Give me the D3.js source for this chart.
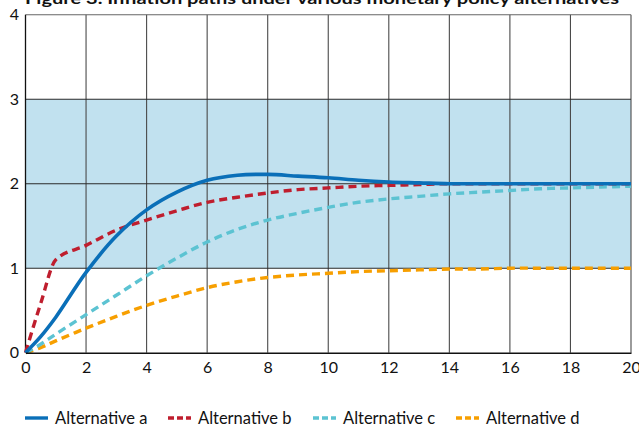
<!DOCTYPE html>
<html>
<head>
<meta charset="utf-8">
<script src="https://cdn.jsdelivr.net/npm/d3@7"></script>
<style>
  html, body { margin: 0; padding: 0; background: #fff; overflow: hidden; }
  svg { display: block; }
  text { font-family: Lato, "Noto Sans", sans-serif; fill: #111; }
</style>
</head>
<body>
<svg id="chart" width="639" height="430"></svg>
<script>
// ---- data ----
const title = "Figure 3. Inflation paths under various monetary policy alternatives";
const periods = [0, 0.5, 1, 2, 3, 4, 5, 6, 7, 8, 9, 10, 11, 12, 13, 14, 15, 16, 17, 18, 19, 20];
const altA = [0, 0.19, 0.42, 0.95, 1.38, 1.69, 1.9, 2.04, 2.1, 2.11, 2.09, 2.07, 2.04, 2.02, 2.01, 2.0, 2.0, 2.0, 2.0, 2.0, 2.0, 2.0];
const altB = [0, 0.58, 1.1, 1.27, 1.45, 1.57, 1.68, 1.78, 1.84, 1.89, 1.93, 1.95, 1.97, 1.98, 1.99, 2.0, 2.0, 2.0, 2.0, 2.0, 2.0, 2.0];
const altC = [0, 0.1, 0.22, 0.45, 0.68, 0.91, 1.12, 1.31, 1.46, 1.57, 1.65, 1.72, 1.78, 1.82, 1.85, 1.88, 1.9, 1.92, 1.94, 1.95, 1.96, 1.97];
const altD = [0, 0.06, 0.14, 0.29, 0.43, 0.56, 0.67, 0.77, 0.84, 0.89, 0.92, 0.94, 0.96, 0.97, 0.98, 0.99, 0.99, 1.0, 1.0, 1.0, 1.0, 1.0];
const seriesNames = ["Alternative a", "Alternative b", "Alternative c", "Alternative d"];
const xTicks = [0, 2, 4, 6, 8, 10, 12, 14, 16, 18, 20];
const yTicks = [0, 1, 2, 3, 4];
const targetBand = [1, 3];

// ---- layout ----
const svg = d3.select("#chart");
const x = d3.scaleLinear().domain([0, 20]).range([25.5, 631]);
const y = d3.scaleLinear().domain([0, 4]).range([352.7, 14.7]);

const colors = ["#0a6fb8", "#bf1e2e", "#5cc3d2", "#f79f00"];
const dashes = [null, "8,5", "8,5", "8,5"];
const legendDashes = [null, "6,3", "6,3", "6,3"];

// title (cut off at top, as in reference)
svg.append("text")
  .attr("x", 25).attr("y", 3.5)
  .attr("font-weight", "bold").attr("font-size", 15)
  .attr("textLength", 594).attr("lengthAdjust", "spacingAndGlyphs")
  .text(title);

// band
svg.append("rect")
  .attr("x", x(0)).attr("width", x(20) - x(0))
  .attr("y", y(targetBand[1])).attr("height", y(targetBand[0]) - y(targetBand[1]))
  .attr("fill", "#c1e1ef");

// vertical grid
svg.append("g").selectAll("line").data(xTicks.slice(1))
  .join("line")
  .attr("x1", d => x(d)).attr("x2", d => x(d))
  .attr("y1", y(4)).attr("y2", y(0))
  .attr("stroke", "#4a4a4a").attr("stroke-width", 1.1);

// horizontal grid
svg.append("g").selectAll("line").data(yTicks.slice(1))
  .join("line")
  .attr("x1", x(0)).attr("x2", x(20))
  .attr("y1", d => y(d)).attr("y2", d => y(d))
  .attr("stroke", d => d === 4 ? "#666" : "#2a2a2a").attr("stroke-width", 1.1);

// left axis line
svg.append("line")
  .attr("x1", x(0)).attr("x2", x(0)).attr("y1", y(4)).attr("y2", y(0))
  .attr("stroke", "#111").attr("stroke-width", 1.3);

// lines
const allSeries = [altA, altB, altC, altD];
const smooth = d3.line()
  .x((d, i) => x(periods[i]))
  .y(d => y(d))
  .curve(d3.curveCatmullRom.alpha(0.5));
const knee = d3.line()
  .x((d, i) => x(periods[i]))
  .y(d => y(d))
  .curve(d3.curveMonotoneX);

[3, 2, 1, 0].forEach(k => {
  svg.append("path")
    .datum(allSeries[k])
    .attr("d", k === 1 ? knee : smooth)
    .attr("fill", "none")
    .attr("stroke", colors[k])
    .attr("stroke-width", k === 0 ? 3.6 : 3.4)
    .attr("stroke-dasharray", dashes[k])
    .attr("stroke-linejoin", "round");
});

// bottom axis
const xAxis = d3.axisBottom(x).tickValues(xTicks).tickSize(0).tickPadding(9).tickFormat(d3.format("d"));
const gx = svg.append("g").attr("transform", `translate(0,${y(0)})`).call(xAxis);
gx.select(".domain").attr("stroke", "#111").attr("stroke-width", 1.6);
gx.selectAll("text").attr("font-size", 16).attr("fill", "#111").style("font-family", "Lato, 'Noto Sans', sans-serif");

// left axis labels
const yAxis = d3.axisLeft(y).tickValues(yTicks).tickSize(0).tickPadding(0).tickFormat(d3.format("d"));
const gy = svg.append("g").attr("transform", `translate(19,0)`).call(yAxis);
gy.select(".domain").remove();
gy.selectAll("text").attr("font-size", 16).attr("fill", "#111").style("font-family", "Lato, 'Noto Sans', sans-serif");

// legend
const legendX = [25, 168, 313, 456];
const lg = svg.append("g");
seriesNames.forEach((name, k) => {
  lg.append("line")
    .attr("x1", legendX[k]).attr("x2", legendX[k] + 23)
    .attr("y1", 418).attr("y2", 418)
    .attr("stroke", colors[k]).attr("stroke-width", 3.4)
    .attr("stroke-dasharray", legendDashes[k]);
  lg.append("text")
    .attr("x", legendX[k] + 30).attr("y", 423.5)
    .attr("font-size", 16.5)
    .text(name);
});
</script>
</body>
</html>
